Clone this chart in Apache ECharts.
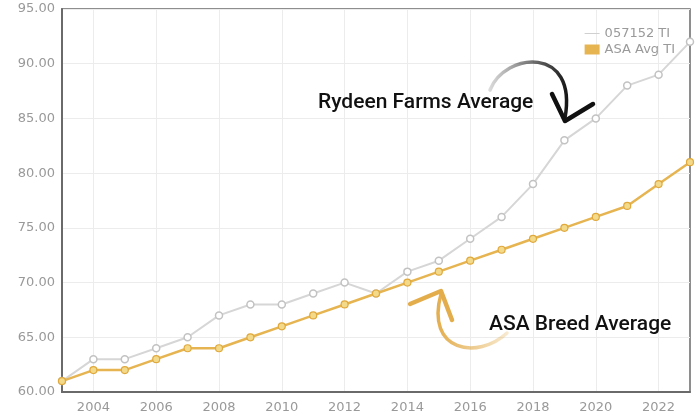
<!DOCTYPE html>
<html><head><meta charset="utf-8">
<script src="https://cdn.jsdelivr.net/npm/echarts@6/dist/echarts.min.js"></script>
<style>html,body{margin:0;padding:0;background:#fff}#c{width:696px;height:420px}</style>
</head><body><div id="c"></div>
<script>
const years = ['2003','2004','2005','2006','2007','2008','2009','2010','2011','2012','2013','2014','2015','2016','2017','2018','2019','2020','2021','2022','2023'];
const herdTI = [61,63,63,64,65,67,68,68,69,70,69,71,72,74,76,79,83,85,88,89,92];
const asaTI = [61,62,62,63,64,64,65,66,67,68,69,70,71,72,73,74,75,76,77,79,81];
const seriesNames = ['057152 TI','ASA Avg TI'];
const yTicks = {min:60, max:95, interval:5};

const chart = echarts.init(document.getElementById('c'));
const even = (i) => i % 2 === 1;
const grad = (x1,y1,x2,y2,c0,c1) => new echarts.graphic.LinearGradient(x1,y1,x2,y2,[{offset:0,color:c0},{offset:1,color:c1}]);
chart.setOption({
  animation:false,
  grid:{left:62,right:6,top:9,bottom:28,show:true,borderColor:'#6a6a6a',borderWidth:1.5},
  legend:{
    right:16, top:22, orient:'vertical', itemGap:3, itemWidth:15, itemHeight:10,
    textStyle:{color:'#9a9a9a',fontSize:13,fontFamily:'DejaVu Sans'},
    data:[
      {name:seriesNames[0],icon:'path://M0,5L15,5L15,6L0,6Z',itemStyle:{color:'#d0d0d0',borderWidth:0}},
      {name:seriesNames[1],icon:'rect',itemStyle:{color:'#e6b450',borderWidth:0}}
    ]
  },
  xAxis:{
    type:'category', data:years, boundaryGap:false,
    axisLine:{lineStyle:{color:'#6a6a6a',width:2}},
    axisTick:{show:false},
    axisLabel:{interval:even,color:'#999',fontSize:13,fontFamily:'DejaVu Sans',margin:9},
    splitLine:{show:true,interval:even,lineStyle:{color:'#ececec'}}
  },
  yAxis:{
    type:'value', min:yTicks.min, max:yTicks.max, interval:yTicks.interval,
    axisLine:{show:true,lineStyle:{color:'#6a6a6a',width:2}},
    axisLabel:{formatter:v=>v.toFixed(2),color:'#999',fontSize:13,fontFamily:'DejaVu Sans',margin:7},
    splitLine:{lineStyle:{color:'#ececec'}}
  },
  series:[
    {name:seriesNames[0],type:'line',data:herdTI,symbol:'circle',symbolSize:7,
     lineStyle:{color:'#d6d6d6',width:2},
     itemStyle:{color:'#fff',borderColor:'#c2c2c2',borderWidth:1.5},z:2},
    {name:seriesNames[1],type:'line',data:asaTI,symbol:'circle',symbolSize:7,
     lineStyle:{color:'#e6b450',width:2.5},
     itemStyle:{color:'#f3d98a',borderColor:'#e0a93c',borderWidth:1.2},z:3}
  ],
  color:['#d6d6d6','#e6b04a'],
  graphic:[
    {type:'text',x:318,y:103,style:{text:'Rydeen Farms Average',fill:'#111',font:'500 21px Roboto',textVerticalAlign:'middle'},z:10},
    {type:'text',x:489,y:325,style:{text:'ASA Breed Average',fill:'#111',font:'500 21px Roboto',textVerticalAlign:'middle'},z:10},
    {type:'bezierCurve',shape:{x1:490,y1:90,cpx1:505,cpy1:52,cpx2:578,cpy2:45,x2:565,y2:118},
     style:{stroke:grad(0,0,1,0,'rgba(40,40,40,0.15)','#111'),lineWidth:3.5,fill:null,lineCap:'round'},z:10},
    {type:'polyline',shape:{points:[[552,94],[565,121],[593,104]]},
     style:{stroke:'#111',lineWidth:4.5,fill:null,lineJoin:'round',lineCap:'round'},z:10},
    {type:'bezierCurve',shape:{x1:507,y1:333,cpx1:478,cpy1:360,cpx2:425,cpy2:352,x2:441,y2:294},
     style:{stroke:grad(1,0,0,0,'rgba(227,173,76,0.25)','#e3ad4c'),lineWidth:3.5,fill:null,lineCap:'round'},z:10},
    {type:'polyline',shape:{points:[[410,304],[441,291],[452,320]]},
     style:{stroke:'#e3ad4c',lineWidth:4.5,fill:null,lineJoin:'round',lineCap:'round'},z:10}
  ]
});
</script></body></html>
